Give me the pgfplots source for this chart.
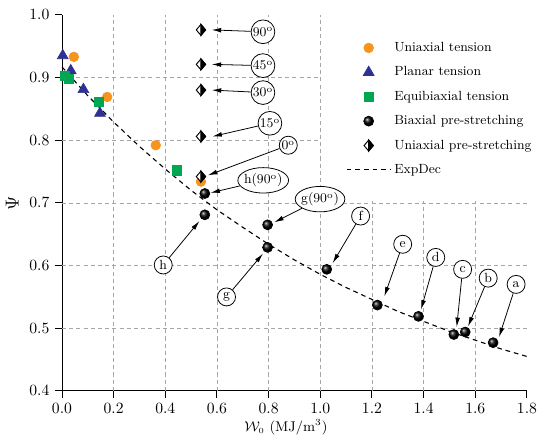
\documentclass[border=0pt]{standalone}
\usepackage{fontspec}
\usepackage{pgfplots}
\pgfplotsset{compat=1.18}
\usetikzlibrary{arrows.meta,shapes.geometric}
\definecolor{uorange}{RGB}{247,148,29}
\definecolor{pblue}{RGB}{46,49,146}
\definecolor{egreen}{RGB}{0,166,81}
\pgfdeclareplotmark{halfdiamond}{%
  \begin{pgfscope}
  \pgfsetfillcolor{white}%
  \pgfpathmoveto{\pgfqpoint{0pt}{\pgfplotmarksize}}%
  \pgfpathlineto{\pgfqpoint{0.85\pgfplotmarksize}{0pt}}%
  \pgfpathlineto{\pgfqpoint{0pt}{-\pgfplotmarksize}}%
  \pgfpathlineto{\pgfqpoint{-0.85\pgfplotmarksize}{0pt}}%
  \pgfpathclose
  \pgfusepathqfillstroke
  \end{pgfscope}
  \begin{pgfscope}
  \pgfsetfillcolor{black}%
  \pgfpathmoveto{\pgfqpoint{0pt}{\pgfplotmarksize}}%
  \pgfpathlineto{\pgfqpoint{0.85\pgfplotmarksize}{0pt}}%
  \pgfpathlineto{\pgfqpoint{0pt}{-\pgfplotmarksize}}%
  \pgfpathclose
  \pgfusepathqfillstroke
  \end{pgfscope}
}
\newcommand{\anf}{\fontsize{8.5}{10}\selectfont}
\begin{document}
\begin{tikzpicture}[
  lbl/.style={circle, draw, fill=white, inner sep=0.4pt, minimum size=11.5pt, font=\anf, line width=0.5pt},
  elb/.style={ellipse, draw, fill=white, inner xsep=-0.8pt, inner ysep=1.5pt, font=\anf, line width=0.5pt},
  arr/.style={-{Latex[length=6pt,width=3pt]}, line width=0.5pt}
]
\begin{axis}[
  scale only axis, width=297.1pt, height=240.3pt,
  xmin=0, xmax=1.8, ymin=0.4, ymax=1.0,
  axis x line*=bottom, axis y line*=left,
  axis line style={line width=0.6pt},
  xtick={0,0.2,0.4,0.6,0.8,1.0,1.2,1.4,1.6,1.8},
  ytick={0.4,0.5,0.6,0.7,0.8,0.9,1.0},
  tick align=outside, major tick length=4.5pt,
  tick style={black, line width=0.6pt},
  xticklabel style={/pgf/number format/.cd,fixed,fixed zerofill,precision=1},
  yticklabel style={/pgf/number format/.cd,fixed,fixed zerofill,precision=1},
  extra x ticks={0.2,0.4,0.6,0.8,1.0,1.2,1.4,1.6}, extra x tick labels={},
  extra x tick style={grid=major, major tick length=0pt},
  extra y ticks={0.5,0.6,0.7,0.8,0.9}, extra y tick labels={},
  extra y tick style={grid=major, major tick length=0pt},
  major grid style={black!35, dash pattern=on 2.6pt off 2pt, line width=0.5pt},
  xlabel={\small$\mathcal{W}_{\scriptscriptstyle 0}$ (MJ/m$^3$)},
  xlabel style={yshift=7.5pt, xshift=-5.5pt},
  ylabel={\large$\Psi$},
  ylabel shift=-4.5pt,
  clip=false,
  legend cell align=left,
  legend image code/.code={\draw[mark repeat=2,mark phase=2,#1] plot coordinates {(0pt,0pt) (14pt,0pt) (28pt,0pt)};},
  legend style={at={(axis cs:1.081,0.967)}, anchor=north west, draw=none, fill=none, font=\anf, row sep=4.2pt},
]
\fill[white] (axis cs:1.004,0.7025) rectangle (axis cs:1.8,1.0);

\addplot[only marks, mark=*, mark size=3.1pt, color=uorange] coordinates {
(0.046,0.933) (0.175,0.869) (0.363,0.792) (0.538,0.734)};
\addlegendentry{Uniaxial tension}
\addplot[only marks, mark=triangle*, mark size=4pt, color=pblue] coordinates {
(0.003,0.935) (0.034,0.911) (0.083,0.881) (0.147,0.843)};
\addlegendentry{Planar tension}
\addplot[only marks, mark=square*, mark size=2.9pt, color=egreen] coordinates {
(0.012,0.903) (0.025,0.898) (0.142,0.861) (0.444,0.752)};
\addlegendentry{Equibiaxial tension}
\addplot[only marks, mark=ball, mark size=3.2pt, ball color=black] coordinates {
(0.553,0.715) (0.553,0.681) (0.796,0.665) (0.796,0.629) (1.025,0.594)
(1.221,0.537) (1.380,0.519) (1.517,0.490) (1.561,0.494) (1.669,0.477)};
\addlegendentry{Biaxial pre-stretching}
\addplot[only marks, mark=halfdiamond, mark size=3.5pt, black, line width=0.6pt] coordinates {
(0.538,0.976) (0.538,0.921) (0.538,0.880) (0.538,0.806) (0.538,0.742)};
\addlegendentry{Uniaxial pre-stretching}
\addplot[black, line width=0.7pt, dash pattern=on 3pt off 2.5pt] coordinates {
(0,0.917) (0.1,0.871) (0.2,0.829) (0.3,0.790) (0.4,0.754) (0.5,0.720)
(0.6,0.689) (0.7,0.661) (0.8,0.634) (0.9,0.609) (1.0,0.586) (1.1,0.565)
(1.2,0.546) (1.3,0.527) (1.4,0.511) (1.5,0.495) (1.6,0.481) (1.7,0.467) (1.8,0.455)};
\addlegendentry{ExpDec}

\node[lbl] (n90) at (axis cs:0.778,0.973) {90\textsuperscript{o}};
\draw[arr] (n90) -- (axis cs:0.58,0.976);
\node[lbl] (n45) at (axis cs:0.778,0.919) {45\textsuperscript{o}};
\draw[arr] (n45) -- (axis cs:0.58,0.921);
\node[lbl] (n30) at (axis cs:0.778,0.876) {30\textsuperscript{o}};
\draw[arr] (n30) -- (axis cs:0.58,0.880);
\node[lbl] (n15) at (axis cs:0.805,0.827) {15\textsuperscript{o}};
\draw[arr] (n15) -- (axis cs:0.583,0.806);
\node[lbl] (n0) at (axis cs:0.876,0.792) {0\textsuperscript{o}};
\draw[arr] (n0) -- (axis cs:0.565,0.744);
\node[elb] (nh90) at (axis cs:0.779,0.736) {h(90\textsuperscript{o})};
\draw[arr] (nh90) -- (axis cs:0.575,0.716);
\node[elb] (ng90) at (axis cs:0.999,0.706) {g(90\textsuperscript{o})};
\draw[arr] (ng90) -- (axis cs:0.822,0.669);
\node[lbl] (nh) at (axis cs:0.392,0.601) {h};
\draw[arr] (nh) -- (axis cs:0.532,0.671);
\node[lbl] (ng) at (axis cs:0.637,0.550) {g};
\draw[arr] (ng) -- (axis cs:0.778,0.619);
\node[lbl] (nf) at (axis cs:1.156,0.679) {f};
\draw[arr] (nf) -- (axis cs:1.048,0.604);
\node[lbl] (ne) at (axis cs:1.319,0.634) {e};
\draw[arr] (ne) -- (axis cs:1.248,0.551);
\node[lbl] (nd) at (axis cs:1.447,0.613) {d};
\draw[arr] (nd) -- (axis cs:1.390,0.530);
\node[lbl] (nc) at (axis cs:1.551,0.594) {c};
\draw[arr] (nc) -- (axis cs:1.528,0.502);
\node[lbl] (nb) at (axis cs:1.650,0.580) {b};
\draw[arr] (nb) -- (axis cs:1.572,0.503);
\node[lbl] (na) at (axis cs:1.758,0.570) {a};
\draw[arr] (na) -- (axis cs:1.692,0.486);
\end{axis}
\pgfresetboundingbox
\path (-39.6pt,-30pt) rectangle (304.8pt,249.8pt);
\end{tikzpicture}
\end{document}
